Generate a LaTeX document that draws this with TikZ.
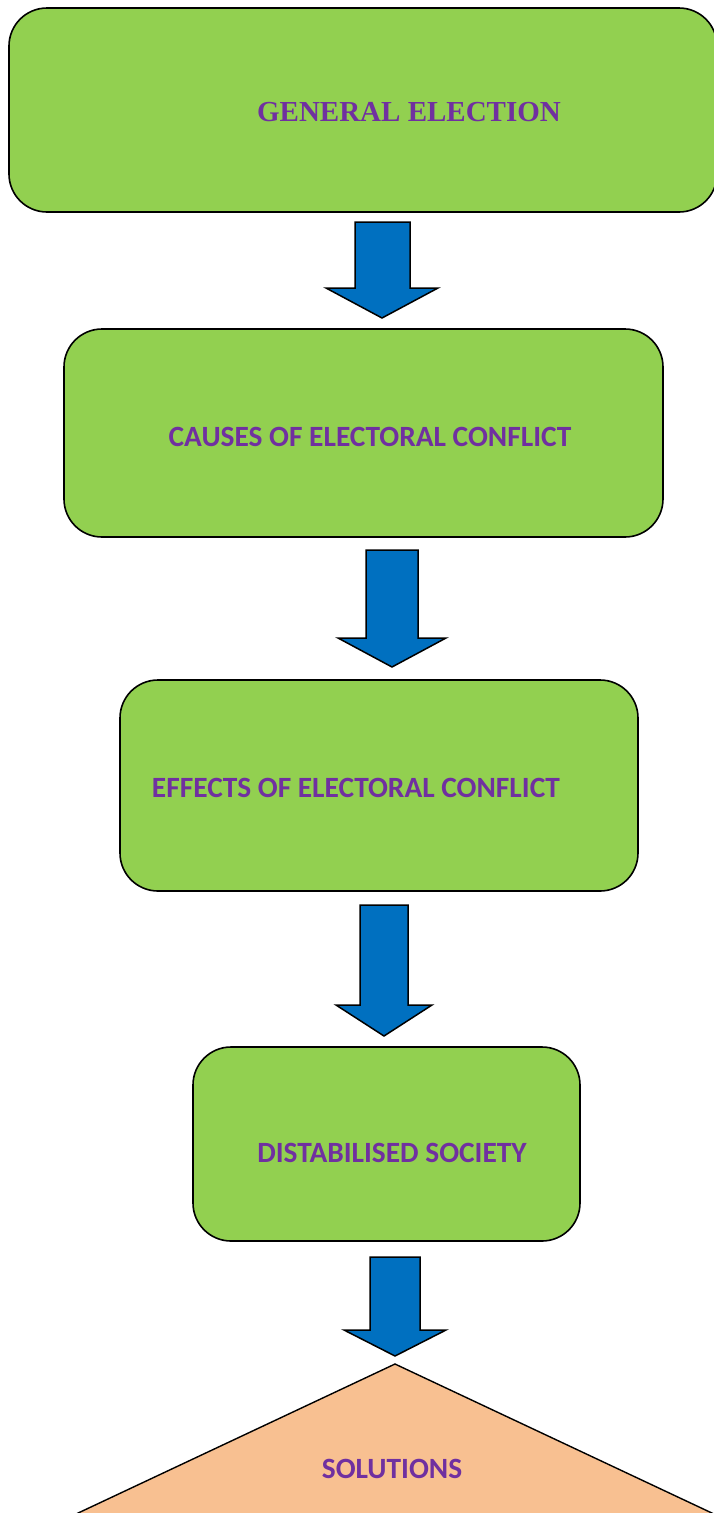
\documentclass[tikz,border=0pt]{standalone}
\usepackage{fontspec}
\newfontfamily\serifbold{Liberation Serif}
\newfontfamily\calibri{Carlito}
\definecolor{boxgreen}{HTML}{92D050}
\definecolor{txtpurple}{HTML}{7030A0}
\definecolor{arrowblue}{HTML}{0070C0}
\definecolor{solorange}{HTML}{F8C091}
\begin{document}
\begin{tikzpicture}[x=1pt,y=-1pt,
  stage/.style={draw=black,line width=1.6pt,fill=boxgreen,rounded corners=38pt},
  stagetext/.style={text=txtpurple,font=\calibri\bfseries\fontsize{29.4}{34}\selectfont,inner sep=0pt},
  blockarrow/.style={draw=black,line width=1.5pt,fill=arrowblue,line join=miter}]
\useasboundingbox (0,0) rectangle (714,1513);
% boxes
\draw[stage] (9,8) rectangle (717,212);
\node[text=txtpurple,font=\serifbold\bfseries\fontsize{29}{34}\selectfont,inner sep=0pt] (t1) at (409,112) {GENERAL ELECTION};

\draw[stage] (64,329) rectangle (663,537);
\node[stagetext] (t2) at (370,437) {CAUSES OF ELECTORAL CONFLICT};

\draw[stage] (120,680) rectangle (638,891);
\node[stagetext] (t3) at (356,788) {EFFECTS OF ELECTORAL CONFLICT};

\draw[stage] (193,1047) rectangle (580,1241);
\node[stagetext] (t4) at (392,1153) {DISTABILISED SOCIETY};

% triangle
\draw[line width=1.4pt,fill=solorange,line join=miter] (395,1364) -- (42,1530) -- (748,1530) -- cycle;
\node[stagetext] (t5) at (392,1469) {SOLUTIONS};

% block arrows
\newcommand{\downblock}[7]{% shaftL shaftR top headY headL headR tipY
  \draw[blockarrow] (#1,#3) -- (#2,#3) -- (#2,#4) -- (#6,#4) -- ({(#5+#6)/2},#7) -- (#5,#4) -- (#1,#4) -- cycle;}
\downblock{355}{410}{222}{288}{326}{438}{318}
\downblock{366}{418}{550}{638}{338}{446}{667}
\downblock{360}{408}{905}{1005}{336}{432}{1036}
\downblock{370}{420}{1257}{1330}{344}{446}{1356}
\end{tikzpicture}
\end{document}
